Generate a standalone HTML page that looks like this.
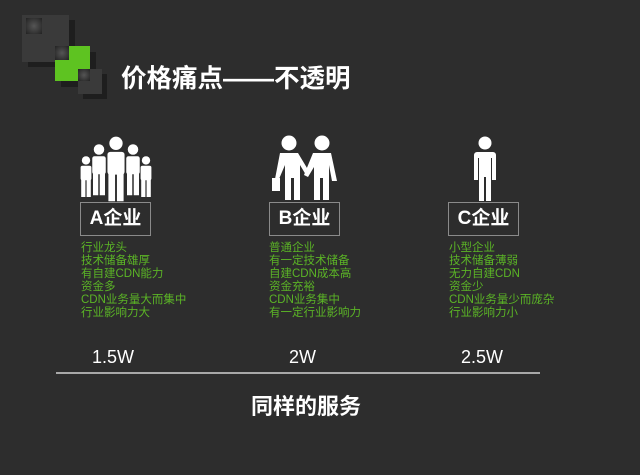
<!DOCTYPE html>
<html><head><meta charset="utf-8"><style>
html,body{margin:0;padding:0}
body{width:640px;height:475px;background:#2d2d2d;position:relative;overflow:hidden;font-family:"Liberation Sans","Noto Sans CJK SC",sans-serif}
.a{position:absolute}
.box{position:absolute;top:202px;width:69px;height:32px;border:1px solid #8a8a8a;color:#fff;font-weight:bold;font-size:19px;line-height:32px;text-align:center}
.list{position:absolute;top:242px;color:#5bb426;font-size:11.5px;line-height:13px;white-space:nowrap}
.price{position:absolute;top:347px;color:#fff;font-size:18px}
</style></head><body>
<div class="a" style="left:28px;top:20px;width:47px;height:47px;background:#1e1e1e"></div>
<div class="a" style="left:22px;top:15px;width:47px;height:47px;background:#3a3a3a"></div>
<div class="a" style="left:26px;top:18px;width:16px;height:16px;background:radial-gradient(#555,#222)"></div>
<div class="a" style="left:61px;top:52px;width:35px;height:35px;background:#1e1e1e"></div>
<div class="a" style="left:55px;top:46px;width:35px;height:35px;background:#5ec321"></div>
<div class="a" style="left:55px;top:46px;width:14px;height:14px;background:radial-gradient(#555,#222)"></div>
<div class="a" style="left:83px;top:74px;width:24px;height:25px;background:#1e1e1e"></div>
<div class="a" style="left:78px;top:69px;width:24px;height:25px;background:#3a3a3a"></div>
<div class="a" style="left:78px;top:69px;width:12px;height:12px;background:radial-gradient(#555,#222)"></div>
<div class="a" style="left:121px;top:58px;color:#fff;font-weight:bold;font-size:25.5px;white-space:nowrap">价格痛点——不透明</div>

<svg class="a" style="left:0;top:0" width="640" height="475" fill="#fff">
<defs>
<g id="p"><circle cx="0" cy="-46" r="7"/><rect x="-9" y="-37" width="18" height="24" rx="3"/><rect x="-8" y="-15" width="7" height="30"/><rect x="1" y="-15" width="7" height="30"/></g>
</defs>
<use href="#p" transform="translate(86,188) scale(0.6)"/>
<use href="#p" transform="translate(146,188) scale(0.6)"/>
<use href="#p" transform="translate(99,184) scale(0.75)"/>
<use href="#p" transform="translate(133,184) scale(0.75)"/>
<use href="#p" transform="translate(116,187) scale(0.95)"/>
<g>
<circle cx="289" cy="143" r="7.5"/><path d="M280 153h18l12 20-4 2-6-10v35h-6v-22h-3v22h-6v-35l-6 14h-4z"/>
<rect x="272" y="178" width="8" height="13"/>
<circle cx="322" cy="143" r="7.5"/><path d="M313 153h18l6 28h-5l-3-16v35h-6v-22h-3v22h-6v-33l-6 10-4-2z"/>
</g>
<g>
<circle cx="485" cy="143" r="6.5"/><path d="M477 152h16a3 3 0 0 1 3 3v25h-4v-22h-1v43h-5v-24h-2v24h-5v-43h-1v22h-4v-25a3 3 0 0 1 3-3z"/>
</g>
</svg>

<div class="box" style="left:80px">A企业</div>
<div class="box" style="left:269px">B企业</div>
<div class="box" style="left:448px">C企业</div>

<div class="list" style="left:81px">行业龙头<br>技术储备雄厚<br>有自建CDN能力<br>资金多<br>CDN业务量大而集中<br>行业影响力大</div>
<div class="list" style="left:269px">普通企业<br>有一定技术储备<br>自建CDN成本高<br>资金充裕<br>CDN业务集中<br>有一定行业影响力</div>
<div class="list" style="left:449px">小型企业<br>技术储备薄弱<br>无力自建CDN<br>资金少<br>CDN业务量少而庞杂<br>行业影响力小</div>

<div class="price" style="left:92px">1.5W</div>
<div class="price" style="left:289px">2W</div>
<div class="price" style="left:461px">2.5W</div>
<div class="a" style="left:56px;top:372px;width:484px;height:2px;background:#a8a8a8"></div>
<div class="a" style="left:0;width:612px;top:389px;text-align:center;color:#fff;font-weight:bold;font-size:22px">同样的服务</div>
</body></html>
